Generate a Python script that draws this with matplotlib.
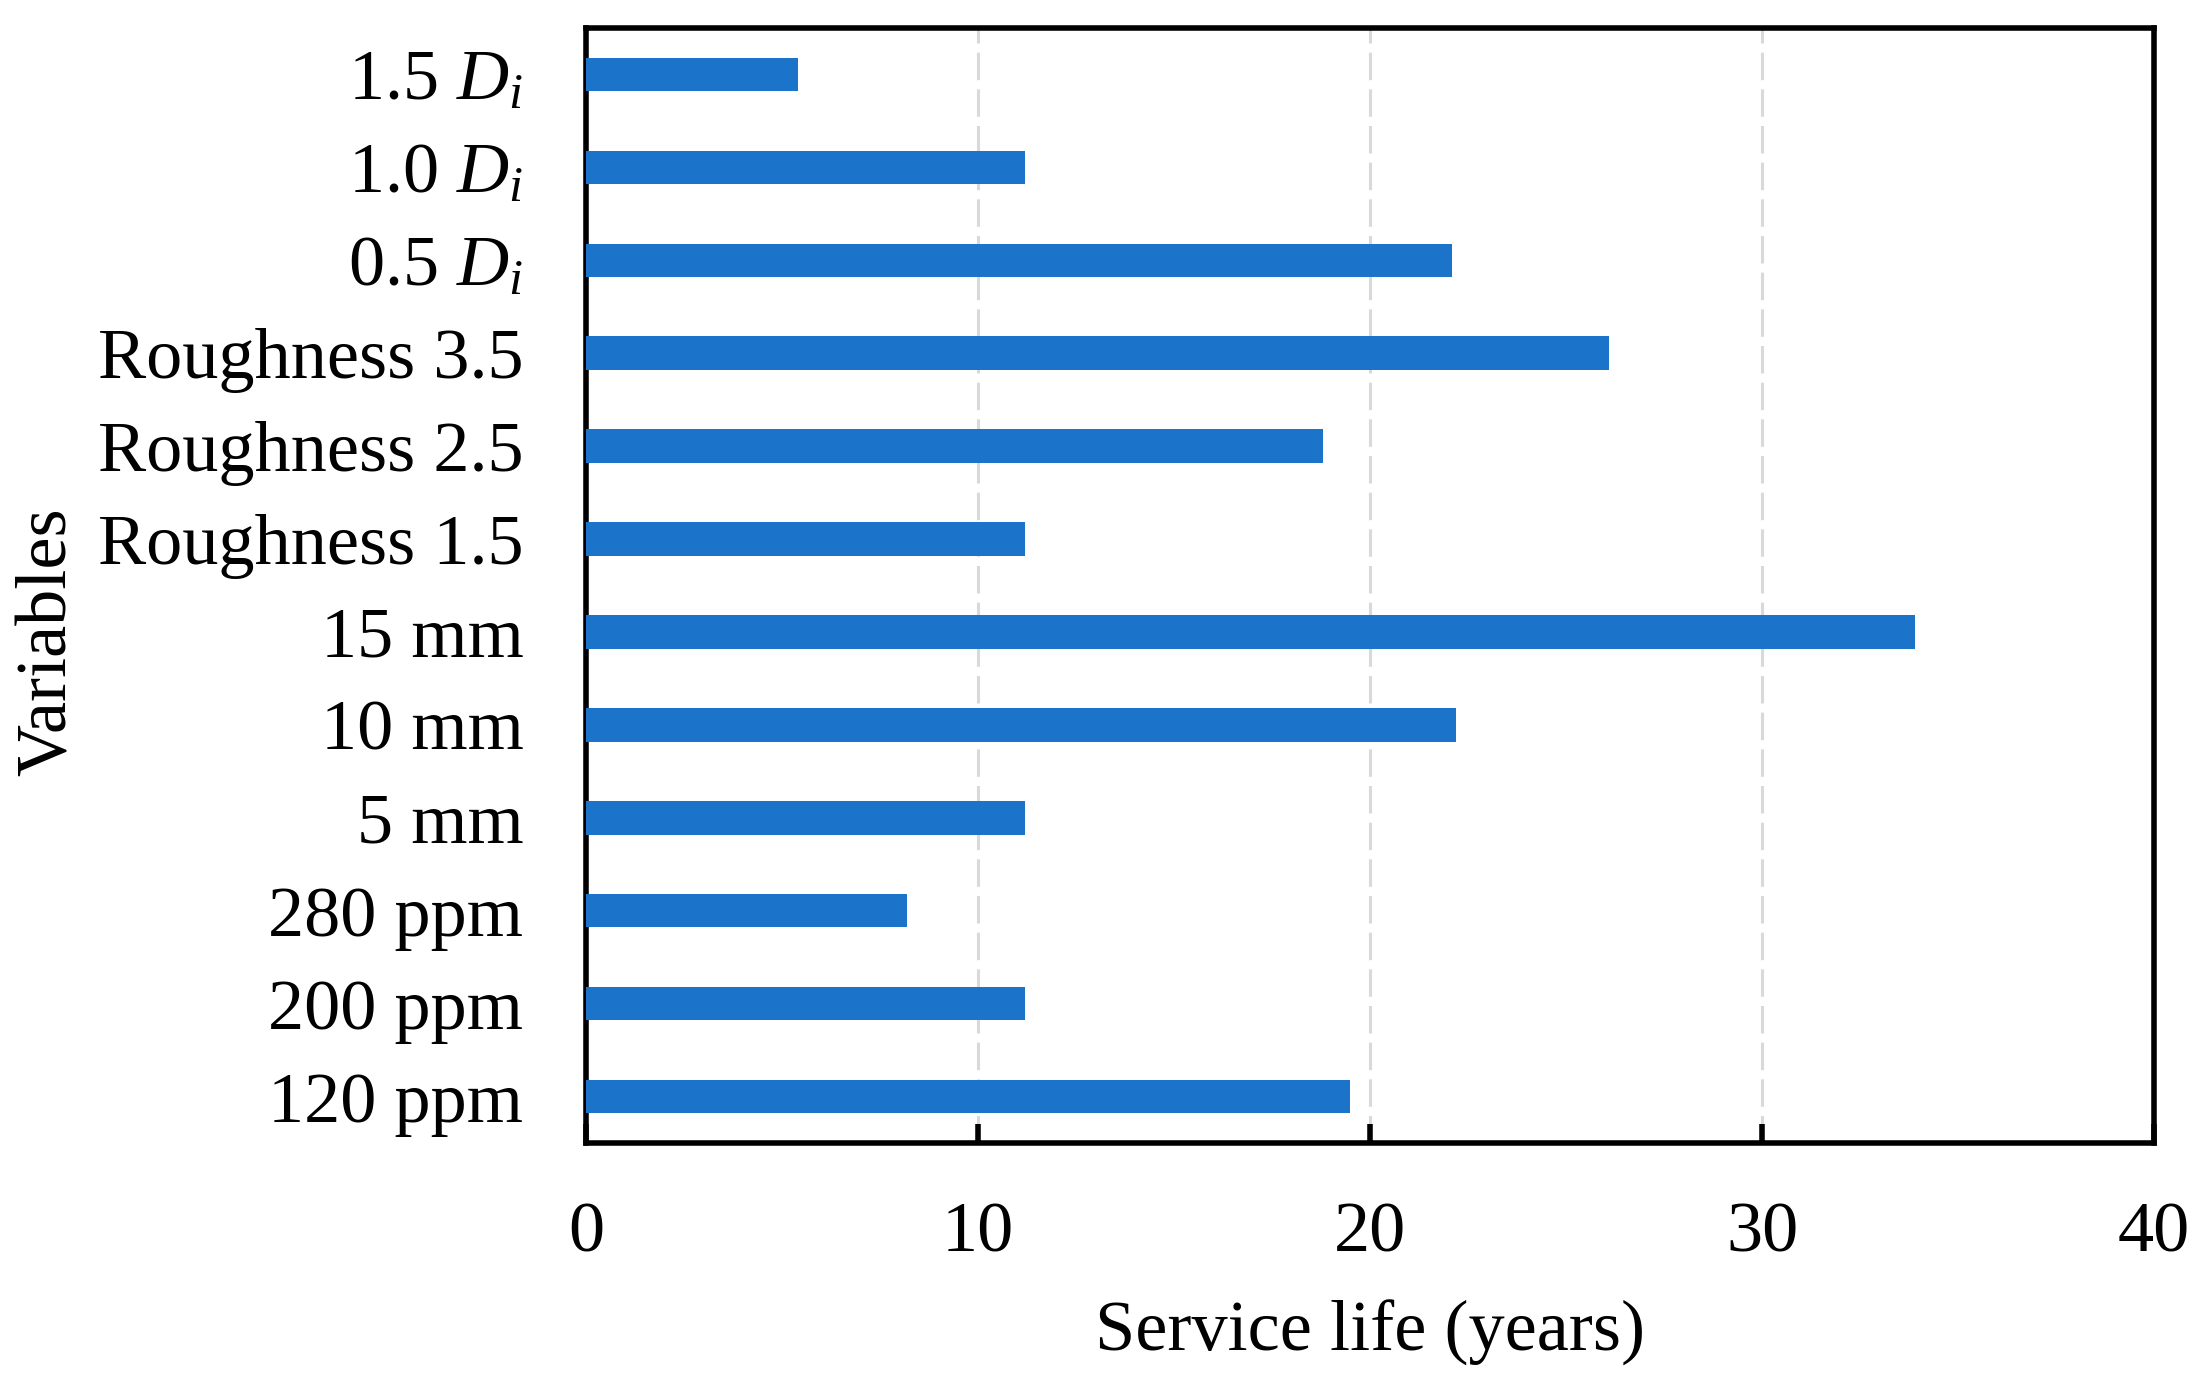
import numpy as np
import matplotlib.pyplot as plt

# Service life for each variable (bottom to top)
variables = ['120 ppm', '200 ppm', '280 ppm', '5 mm', '10 mm', '15 mm',
             'Roughness 1.5', 'Roughness 2.5', 'Roughness 3.5',
             r'0.5 $D_i$', r'1.0 $D_i$', r'1.5 $D_i$']
service_life = [19.5, 11.2, 8.2, 11.2, 22.2, 33.9,
                11.2, 18.8, 26.1, 22.1, 11.2, 5.4]
x_ticks = [0, 10, 20, 30, 40]

plt.rcParams['font.family'] = ['Liberation Serif', 'DejaVu Serif']
plt.rcParams['mathtext.fontset'] = 'custom'
plt.rcParams['mathtext.rm'] = 'Liberation Serif'
plt.rcParams['mathtext.it'] = 'Liberation Serif:italic'

fig = plt.figure(figsize=(22.08, 13.82), dpi=100)
ax = fig.add_axes([586 / 2208, 1 - 1143 / 1382, (2154 - 586) / 2208, (1143 - 28) / 1382])

y = np.arange(len(variables))
ax.barh(y, service_life, height=0.36, color='#1B74C9', zorder=3)

ax.set_xlim(0, 40)
ax.set_ylim(-0.5, len(variables) - 0.5)
ax.set_xticks(x_ticks)
ax.set_yticks(y)
ax.set_yticklabels(variables)

ax.xaxis.grid(True, color='#d9d9d9', linestyle=(0, (9, 3)), linewidth=2.2, zorder=1)
ax.set_axisbelow(True)

for s in ax.spines.values():
    s.set_linewidth(4)
ax.tick_params(axis='x', direction='in', length=14, width=4, labelsize=52, pad=42)
ax.tick_params(axis='y', length=0, labelsize=52, pad=45)

ax.set_xlabel('Service life (years)', fontsize=52, labelpad=24)
ax.set_ylabel('Variables', fontsize=52)
ax.yaxis.set_label_coords(-0.322, 0.45)

fig.savefig('out.png', dpi=100)
